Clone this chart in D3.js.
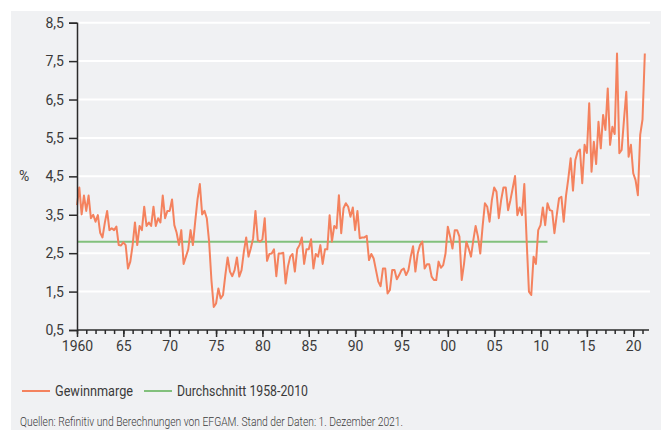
<!DOCTYPE html>
<html>
<head>
<meta charset="utf-8">
<script src="https://cdnjs.cloudflare.com/ajax/libs/d3/7.8.5/d3.min.js"></script>
<style>
  body { margin: 0; background: #fff; }
  svg { display: block; font-family: Roboto, sans-serif; }
</style>
</head>
<body>
<svg id="chart" width="662" height="430"></svg>
<script>
// quarterly profit margin, first quarter 1960 onwards
const startYear = 1960
const gewinnmarge = [
  3.75, 4.21, 3.51, 4.00,  3.60, 4.00, 3.41, 3.50,  3.32, 3.49, 3.03, 2.91,  3.29, 3.60, 3.10, 3.15,
  3.10, 3.19, 2.71, 2.70,  2.78, 2.71, 2.10, 2.28,  2.71, 3.30, 2.71, 3.21,  3.10, 3.71, 3.21, 3.30,
  3.21, 3.71, 3.21, 3.41,  3.30, 4.00, 3.41, 3.60,  3.60, 3.90, 3.23, 3.03,  2.71, 3.10, 2.22, 2.41,
  2.60, 3.10, 2.71, 3.32,  3.90, 4.30, 3.51, 3.60,  3.41, 2.80, 1.80, 1.10,  1.19, 1.58, 1.32, 1.41,
  1.93, 2.39, 2.02, 1.90,  2.06, 2.39, 1.89, 2.06,  2.54, 2.91, 2.41, 2.63,  2.89, 3.60, 2.84, 2.80,
  2.86, 3.41, 2.30, 2.48,  2.49, 2.60, 1.90, 2.49,  2.49, 2.51, 1.71, 2.15,  2.41, 2.48, 2.02, 2.60,
  2.71, 2.91, 2.22, 2.60,  2.60, 2.86, 2.10, 2.48,  2.41, 2.71, 2.22, 2.60,  2.60, 3.49, 2.80, 3.21,
  3.15, 4.01, 3.02, 3.67,  3.80, 3.71, 3.45, 3.69,  3.10, 3.60, 2.89, 2.91,  2.91, 2.95, 2.32, 2.48,
  2.36, 2.06, 1.76, 1.64,  2.10, 2.10, 1.45, 1.54,  2.06, 2.06, 1.82, 1.93,  2.06, 2.10, 1.93, 2.06,
  2.41, 2.68, 2.02, 2.49,  2.71, 2.80, 2.10, 2.21,  2.21, 1.89, 1.80, 1.80,  2.28, 2.12, 2.19, 2.49,
  3.19, 2.93, 2.62, 3.10,  3.10, 2.93, 1.80, 2.23,  2.80, 2.62, 2.41, 2.84,  3.21, 2.93, 2.49, 3.19,
  3.80, 3.71, 3.32, 3.88,  4.21, 4.10, 3.41, 3.88,  4.21, 4.21, 3.62, 3.88,  4.19, 4.51, 3.49, 3.69,
  3.49, 4.30, 2.84, 1.50,  1.41, 2.41, 2.22, 3.10,  3.23, 3.69, 3.23, 3.80,  3.62, 3.60, 3.02, 3.50,
  3.93, 3.97, 3.32, 4.00,  4.45, 4.97, 4.13, 4.92,  5.14, 5.20, 4.32, 5.32,  5.11, 6.40, 4.62, 5.40,
  4.82, 5.92, 5.23, 6.10,  5.71, 6.79, 5.32, 5.79,  5.60, 7.70, 5.10, 5.19,  5.97, 6.70, 5.01, 5.32,
  4.58, 4.40, 4.01, 5.58,  5.98, 7.70
]

// average 1958-2010
const durchschnitt = 2.8
const durchschnittYears = [1960, 2010.75]

const yTicks = [0.5, 1.5, 2.5, 3.5, 4.5, 5.5, 6.5, 7.5, 8.5]
const xMajorTicks = [1960, 1965, 1970, 1975, 1980, 1985, 1990, 1995, 2000, 2005, 2010, 2015, 2020]
const xMinorTicks = d3.range(1960, 2022)

const seriesNames = ["Gewinnmarge", "Durchschnitt 1958-2010"]
const source = "Quellen: Refinitiv und Berechnungen von EFGAM. Stand der Daten: 1. Dezember 2021."

let orange = "#f4825e"
let green = "#82c07c"
let axisColor = "#2b2b2b"
let textColor = "#3a3a3a"

let chartData = gewinnmarge.map(function(v, i) {
  return { year: startYear + i / 4, value: v }
})

let svg = d3.select("#chart")

// grey background panel
svg.append("rect")
  .attr("x", 11)
  .attr("y", 11)
  .attr("width", 650)
  .attr("height", 430)
  .attr("fill", "#f0f1f3")

let x = d3.scaleLinear()
  .domain([1960, 2021.7])
  .range([77, 649])

let y = d3.scaleLinear()
  .domain([0.5, 8.5])
  .range([330, 22.7])

// gridlines
svg.append("g")
  .selectAll("line")
  .data(yTicks.slice(1))
  .enter()
  .append("line")
  .attr("x1", x(1960))
  .attr("x2", 650)
  .attr("y1", function(d) { return y(d) })
  .attr("y2", function(d) { return y(d) })
  .attr("stroke", "#ffffff")
  .attr("stroke-width", 2)

// average line
svg.append("line")
  .attr("x1", x(durchschnittYears[0]))
  .attr("x2", x(durchschnittYears[1]))
  .attr("y1", y(durchschnitt))
  .attr("y2", y(durchschnitt))
  .attr("stroke", green)
  .attr("stroke-width", 2)

// margin line
let line = d3.line()
  .x(function(d) { return x(d.year) })
  .y(function(d) { return y(d.value) })

svg.append("path")
  .datum(chartData)
  .attr("d", line)
  .attr("fill", "none")
  .attr("stroke", orange)
  .attr("stroke-width", 2)
  .attr("stroke-linejoin", "round")

// Y-axis
let yAxis = d3.axisLeft(y)
  .tickValues(yTicks)
  .tickSize(8)
  .tickPadding(5)
  .tickFormat(function(d) { return d3.format(".1f")(d).replace(".", ",") })

let yG = svg.append("g")
  .attr("transform", "translate(" + x(1960) + ",0)")
  .call(yAxis)

yG.select(".domain").attr("stroke", axisColor).attr("stroke-width", 1.5)
yG.selectAll(".tick line").attr("stroke", axisColor).attr("stroke-width", 1.5)
yG.selectAll(".tick text")
  .attr("fill", textColor)
  .style("font-size", "14px")
  .style("font-family", "Roboto, sans-serif")

// unit label
svg.append("text")
  .attr("x", 19)
  .attr("y", y(4.5) + 5)
  .attr("fill", textColor)
  .style("font-size", "14px")
  .text("%")

// X-axis, minor ticks first
let xMinor = d3.axisBottom(x)
  .tickValues(xMinorTicks)
  .tickSize(4)
  .tickFormat("")

let xMinorG = svg.append("g")
  .attr("transform", "translate(0," + y(0.5) + ")")
  .call(xMinor)

xMinorG.select(".domain").remove()
xMinorG.selectAll(".tick line").attr("stroke", axisColor).attr("stroke-width", 1.5)

let xAxis = d3.axisBottom(x)
  .tickValues(xMajorTicks)
  .tickSize(7)
  .tickPadding(4)
  .tickFormat(function(d) {
    return d === 1960 ? "1960" : String(d % 100).padStart(2, "0")
  })

let xG = svg.append("g")
  .attr("transform", "translate(0," + y(0.5) + ")")
  .call(xAxis)

xG.select(".domain")
  .attr("d", "M" + x(1960) + ",0H" + x(2021.7))
  .attr("stroke", axisColor)
  .attr("stroke-width", 1.5)
xG.selectAll(".tick line").attr("stroke", axisColor).attr("stroke-width", 1.5)
xG.selectAll(".tick text")
  .attr("fill", textColor)
  .style("font-size", "14px")
  .style("font-family", "Roboto, sans-serif")

// legend (the original font is narrower, so squeeze the labels a bit)
let legendWidths = [78, 131]

let legend = svg.append("g")
  .selectAll("g")
  .data(seriesNames)
  .enter()
  .append("g")
  .attr("transform", function(d, i) {
    return "translate(" + (i === 0 ? 22 : 144) + ",391)"
  })

legend.append("line")
  .attr("x1", 0)
  .attr("x2", 28)
  .attr("stroke", function(d, i) { return i === 0 ? orange : green })
  .attr("stroke-width", 2)

legend.append("text")
  .attr("x", 33)
  .attr("y", 5)
  .attr("fill", textColor)
  .attr("textLength", function(d, i) { return legendWidths[i] })
  .attr("lengthAdjust", "spacingAndGlyphs")
  .style("font-size", "14.5px")
  .text(function(d) { return d })

// source note
svg.append("text")
  .attr("x", 20)
  .attr("y", 425.5)
  .attr("fill", textColor)
  .attr("textLength", 383)
  .attr("lengthAdjust", "spacingAndGlyphs")
  .style("font-size", "13px")
  .style("font-weight", 300)
  .text(source)
</script>
</body>
</html>
